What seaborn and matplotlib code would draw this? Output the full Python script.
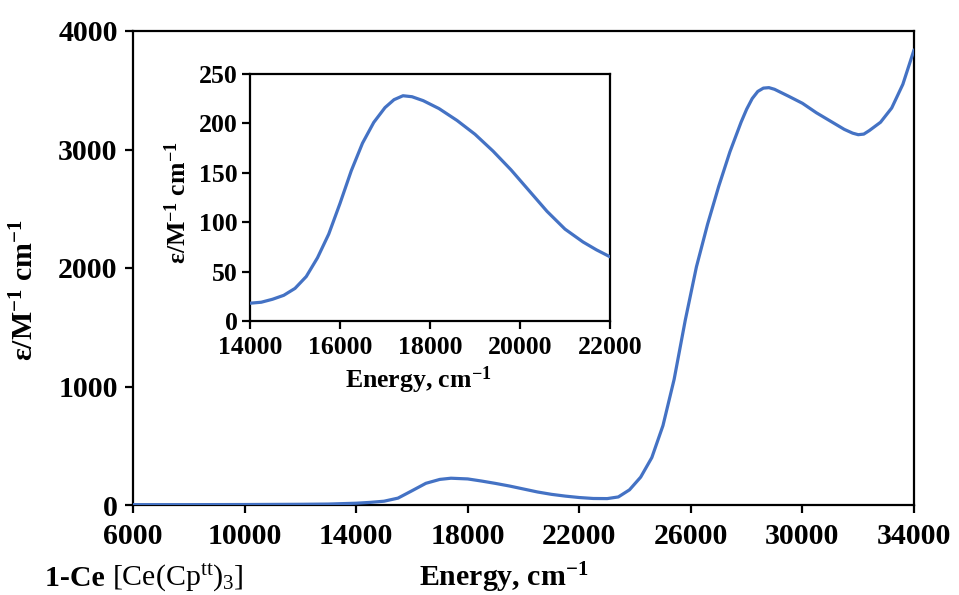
import numpy as np
import pandas as pd
import matplotlib
matplotlib.use("Agg")
import matplotlib.pyplot as plt
import seaborn as sns

# ---- data ----
main_x = [6000, 8000, 10000, 12000, 13000, 14000, 14500, 15000, 15500, 16000,
          16500, 17000, 17400, 18000, 18500, 19000, 19500, 20000, 20500, 21000,
          21500, 22000, 22500, 23000, 23400, 23800, 24200, 24600, 25000, 25400,
          25800, 26200, 26600, 27000, 27400, 27800, 28000, 28200, 28400, 28600,
          28800, 29000, 29500, 30000, 30500, 31000, 31500, 31800, 32000, 32200,
          32400, 32800, 33200, 33600, 34000]
main_y = [3, 3, 4, 6, 8, 15, 22, 32, 58, 120,
          183, 216, 226, 220, 202, 182, 160, 135, 110, 90,
          75, 63, 55, 54, 68, 128, 235, 400, 670, 1060,
          1560, 2010, 2370, 2690, 2980, 3230, 3340, 3430, 3490, 3518,
          3522, 3508, 3450, 3390, 3310, 3240, 3170, 3138, 3125, 3130,
          3160, 3230, 3350, 3550, 3840]

inset_x = [14000, 14250, 14500, 14750, 15000, 15250, 15500, 15750, 16000, 16250,
           16500, 16750, 17000, 17200, 17400, 17600, 17850, 18200, 18600, 19000,
           19400, 19800, 20200, 20600, 21000, 21400, 21700, 22000]
inset_y = [18, 19, 22, 26, 33, 45, 64, 88, 119, 152,
           180, 201, 216, 224, 228, 227, 223, 215, 203, 189,
           172, 153, 132, 111, 93, 80, 72, 65]

main_xticks = [6000, 10000, 14000, 18000, 22000, 26000, 30000, 34000]
main_yticks = [0, 1000, 2000, 3000, 4000]
inset_xticks = [14000, 16000, 18000, 20000, 22000]
inset_yticks = [0, 50, 100, 150, 200, 250]

# ---- style ----
sns.set_theme(style="white")
plt.rcParams['font.family'] = ['Liberation Serif', 'DejaVu Serif']
plt.rcParams['font.weight'] = 'bold'
plt.rcParams['mathtext.default'] = 'regular'
plt.rcParams['axes.linewidth'] = 1.6
plt.rcParams['axes.edgecolor'] = 'black'
plt.rcParams['text.color'] = 'black'
plt.rcParams['xtick.color'] = 'black'
plt.rcParams['ytick.color'] = 'black'
plt.rcParams['xtick.labelcolor'] = 'black'
plt.rcParams['ytick.labelcolor'] = 'black'

line_color = '#4472C4'

fig = plt.figure(figsize=(9.59, 5.95), dpi=100)
ax = fig.add_axes([133/959, 1-505/595, (914-133)/959, (505-31)/595])
ins = fig.add_axes([250/959, 1-321/595, (610-250)/959, (321-74)/595])

df_main = pd.DataFrame({'x': main_x, 'y': main_y})
df_ins = pd.DataFrame({'x': inset_x, 'y': inset_y})

sns.lineplot(data=df_main, x='x', y='y', ax=ax, color=line_color, lw=2.3, zorder=3)
sns.lineplot(data=df_ins, x='x', y='y', ax=ins, color=line_color, lw=2.3, zorder=3)

for a, xt, yt, xl, yl, fs in [(ax, main_xticks, main_yticks, (6000, 34000), (0, 4000), 21.5),
                              (ins, inset_xticks, inset_yticks, (14000, 22000), (0, 250), 18.5)]:
    a.set_xlim(*xl)
    a.set_ylim(*yl)
    a.set_xticks(xt)
    a.set_yticks(yt)
    a.set_xticklabels([str(v) for v in xt], fontsize=fs, fontweight='bold', color='black')
    a.set_yticklabels([str(v) for v in yt], fontsize=fs, fontweight='bold', color='black')
    a.set_xlabel('')
    a.set_ylabel('')
    a.tick_params(axis='both', direction='out', length=6, width=1.6, color='black',
                  bottom=True, left=True, top=False, right=False, pad=4)
    for s in a.spines.values():
        s.set_visible(True)
        s.set_color('black')
        s.set_linewidth(1.6)
    a.grid(False)
    a.set_facecolor('white')

ax.tick_params(axis='x', pad=7)
ax.tick_params(axis='y', pad=5)
ins.tick_params(axis='x', pad=5)
ins.tick_params(axis='y', pad=3)

# labels
fig.text(504/959, 1-578/595, r'Energy, cm$^{-1}$',
         ha='center', va='center', fontsize=21.5, fontweight='bold')
fig.text(25/959, 1-290/595, r'ε/M$^{-1}$ cm$^{-1}$', ha='center', va='center',
         rotation=90, fontsize=21.5, fontweight='bold')
fig.text(418/959, 1-380/595, r'Energy, cm$^{-1}$', ha='center', va='center',
         fontsize=18.5, fontweight='bold')
fig.text(178/959, 1-203/595, r'ε/M$^{-1}$ cm$^{-1}$', ha='center', va='center',
         rotation=90, fontsize=18.5, fontweight='bold')

t1 = fig.text(45/959, 1-578/595, '1-Ce ', ha='left', va='center', fontsize=21.5,
              fontweight='bold')
fig.canvas.draw()
bb = t1.get_window_extent()
fig.text(bb.x1/959, 1-578/595, r'[Ce(Cp$^{tt}$)$_{3}$]', ha='left', va='center',
         fontsize=21.5, fontweight='normal')

fig.savefig('out.png', dpi=100, facecolor='white')
